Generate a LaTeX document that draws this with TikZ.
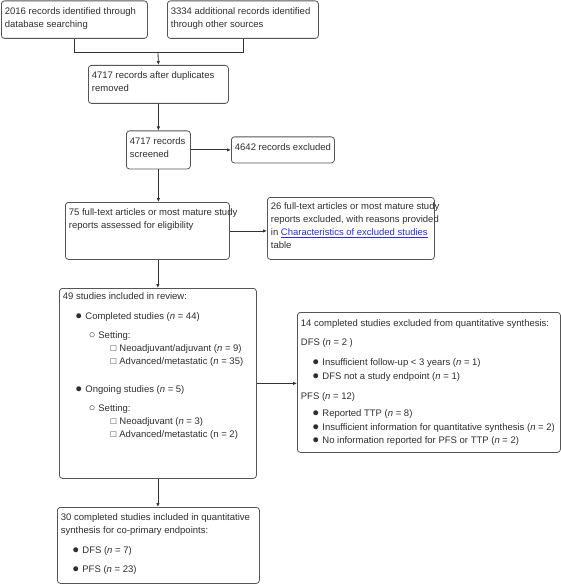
\documentclass[tikz,border=0pt]{standalone}
\usepackage{fontspec}
\setmainfont{Liberation Sans}
\usetikzlibrary{arrows.meta}
\definecolor{txt}{HTML}{2E2E2E}
\definecolor{brd}{HTML}{555555}
\definecolor{lnk}{HTML}{2B2BE0}
\newcommand\Bx[3]{\vbox to #2bp{\hsize=#1bp\offinterlineskip #3\vss}}
\newcommand\Ln[3]{\vskip#1bp\relax\hbox to\hsize{\hskip#2bp\relax\smash{#3}\hfil}}
\newcommand\Lm[4]{\vskip#1bp\relax\hbox to\hsize{\hskip#2bp\relax\llap{\smash{#3}\hskip3bp}\smash{#4}\hfil}}
\newcommand\nn{\textit{n}}
\newcommand\mkA{\raisebox{-0.4bp}{\fontsize{11.5bp}{11.5bp}\selectfont ●}}
\newcommand\mkB{\raisebox{-0.3bp}{\fontsize{11bp}{11bp}\selectfont ○}}
\newcommand\mkC{□}
\begin{document}
\begin{tikzpicture}[x=1bp,y=-1bp,
  box/.style={draw=brd, line width=0.8bp, rounded corners=3bp, inner sep=0pt,
    anchor=north west, text=txt, font=\fontsize{9.5bp}{12.7bp}\selectfont},
  conn/.style={draw=black!80, line width=0.8bp},
  arr/.style={conn, -{Latex[length=4bp,width=3.5bp]}}]
\useasboundingbox (0,0) rectangle (561,584);

\node[box] (b1) at (1,0.5) {\Bx{146}{37.5}{%
  \Ln{13.5}{3.5}{2016 records identified through}%
  \Ln{12.7}{3.5}{database searching}}};
\node[box] (b2) at (167,0.5) {\Bx{151}{37.5}{%
  \Ln{13.5}{3.5}{3334 additional records identified}%
  \Ln{12.7}{3.5}{through other sources}}};
\node[box] (b3) at (88,65) {\Bx{140}{38}{%
  \Ln{13}{3.5}{4717 records after duplicates}%
  \Ln{12.7}{3.5}{removed}}};
\node[box] (b4) at (126,130.5) {\Bx{64}{38}{%
  \Ln{13.5}{3.5}{4717 records}%
  \Ln{12.7}{3.5}{screened}}};
\node[box] (b5) at (231,136.5) {\Bx{103}{26}{%
  \Ln{13.5}{3.5}{4642 records excluded}}};
\node[box] (b6) at (65,202) {\Bx{164}{57}{%
  \Ln{13.5}{3.5}{75 full-text articles or most mature study}%
  \Ln{12.7}{3.5}{reports assessed for eligibility}}};
\node[box] (b7) at (267,197) {\Bx{167}{62}{%
  \Ln{12.5}{3.5}{26 full-text articles or most mature study}%
  \Ln{12.7}{3.5}{reports excluded, with reasons provided}%
  \Ln{12.7}{3.5}{in \textcolor{lnk}{\underline{Characteristics of excluded studies}}}%
  \Ln{12.7}{3.5}{table}}};
\node[box] (b8) at (59,288) {\Bx{197}{190}{%
  \Ln{11.5}{3.5}{49 studies included in review:}%
  \Lm{19.5}{26}{\mkA}{Completed studies (\nn{} = 44)}%
  \Lm{19}{39}{\mkB}{Setting:}%
  \Lm{13.5}{60}{\mkC}{Neoadjuvant/adjuvant (\nn{} = 9)}%
  \Lm{12.5}{60}{\mkC}{Advanced/metastatic (\nn{} = 35)}%
  \Lm{28}{26}{\mkA}{Ongoing studies (\nn{} = 5)}%
  \Lm{19}{39}{\mkB}{Setting:}%
  \Lm{13}{60}{\mkC}{Neoadjuvant (\nn{} = 3)}%
  \Lm{13}{60}{\mkC}{Advanced/metastatic (n = 2)}}};
\node[box] (b9) at (297,312) {\Bx{263}{140}{%
  \Ln{14}{3.5}{14 completed studies excluded from quantitative synthesis:}%
  \Ln{19}{3.5}{DFS (\nn{} = 2 )}%
  \Lm{20}{25}{\mkA}{Insufficient follow-up < 3 years (\nn{} = 1)}%
  \Lm{14}{25}{\mkA}{DFS not a study endpoint (\nn{} = 1)}%
  \Ln{20}{3.5}{PFS (\nn{} = 12)}%
  \Lm{17}{25}{\mkA}{Reported TTP (\nn{} = 8)}%
  \Lm{14}{25}{\mkA}{Insufficient information for quantitative synthesis (\nn{} = 2)}%
  \Lm{13}{25}{\mkA}{No information reported for PFS or TTP (\nn{} = 2)}}};
\node[box] (b10) at (57,507) {\Bx{202}{76}{%
  \Ln{13}{3.5}{30 completed studies included in quantitative}%
  \Ln{13}{3.5}{synthesis for co-primary endpoints:}%
  \Lm{20}{25}{\mkA}{DFS (\nn{} = 7)}%
  \Lm{19}{25}{\mkA}{PFS (\nn{} = 23)}}};

\coordinate (j) at (158,52);
\draw[conn] (b1.south) |- (j);
\draw[conn] (b2.south) |- (j);
\draw[arr] (j) -- (b3.north);
\draw[arr] (b3.south) -- (b4.north);
\draw[arr] (b4.east) -- (b4.east -| b5.west);
\draw[arr] (b4.south) -- (b4.south |- b6.north);
\draw[arr] (b6.east) -- (b6.east -| b7.west);
\draw[arr] (b6.south -| b8.north) -- (b8.north);
\draw[arr] (b8.east) -- (b8.east -| b9.west);
\draw[arr] (b8.south) -- (b8.south |- b10.north);
\end{tikzpicture}
\end{document}
